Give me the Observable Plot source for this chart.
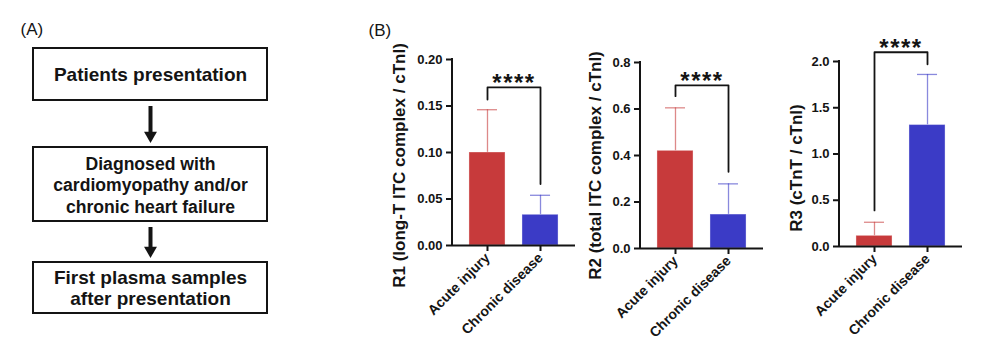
<!DOCTYPE html>
<html><head><meta charset="utf-8">
<script src="https://cdn.jsdelivr.net/npm/d3@7"></script>
<script src="https://cdn.jsdelivr.net/npm/@observablehq/plot@0.6"></script>
<style>
body{margin:0;background:#fff;}
#fig{position:relative;width:992px;height:357px;overflow:hidden;background:#fff;}
#fig svg{position:absolute;top:0;}
</style></head><body><div id="fig"></div>
<script>
// ---------- data ----------
const groups = ["Acute injury", "Chronic disease"];
const r1Mean = [0.100, 0.033];
const r1SD = [0.046, 0.021];
const r2Mean = [0.420, 0.146];
const r2SD = [0.185, 0.132];
const r3Mean = [0.115, 1.313];
const r3SD = [0.147, 0.547];
const r1Ticks = [0, 0.05, 0.10, 0.15, 0.20];
const r2Ticks = [0, 0.2, 0.4, 0.6, 0.8];
const r3Ticks = [0, 0.5, 1.0, 1.5, 2.0];
const yLabels = ["R1 (long-T ITC complex / cTnI)", "R2 (total ITC complex / cTnI)", "R3 (cTnT / cTnI)"];
const sigLabel = "****";
// significance bracket: [left leg end, bracket level, right leg end]
const r1Bracket = [0.157, 0.170, 0.066];
const r2Bracket = [0.655, 0.702, 0.330];
const r3Bracket = [0.390, 2.100, 1.970];
const flowSteps = ["Patients presentation", "Diagnosed with\ncardiomyopathy and/or\nchronic heart failure", "First plasma samples\nafter presentation"];
const panelLabels = ["(A)", "(B)"];

// ---------- styling ----------
const FONT = "'Liberation Sans', Arial, Helvetica, sans-serif";
const INK = "#141414";
const fig = document.getElementById("fig");

// ---------- (A) flowchart ----------
const FLOW = {x1: 33, x2: 267, cx: 150, boxes: [[48, 100], [147, 221], [262, 313]]};
const flowData = flowSteps.map((t, i) => ({
  text: t, y1: FLOW.boxes[i][0], y2: FLOW.boxes[i][1],
  cy: (FLOW.boxes[i][0] + FLOW.boxes[i][1]) / 2, lines: t.split("\n").length
}));
const arrows = flowData.slice(1).map((d, i) => ({start: flowData[i].y2 + 6, apex: d.y1 - 4.5}));

const flow = Plot.plot({
  width: 340, height: 357, margin: 0,
  x: {type: "identity", axis: null},
  y: {type: "identity", axis: null},
  style: {fontFamily: FONT, background: "transparent", overflow: "visible"},
  marks: [
    Plot.text([panelLabels[0]], {x: () => 20, y: () => 29, text: d => d, textAnchor: "start", fontSize: 17, fill: INK}),
    Plot.rect(flowData, {x1: () => FLOW.x1, x2: () => FLOW.x2, y1: "y1", y2: "y2", fill: "white", stroke: INK, strokeWidth: 2}),
    Plot.text(flowData.filter(d => d.lines < 3), {x: () => FLOW.cx, y: "cy", text: "text", fontSize: 19, fontWeight: "bold", lineHeight: 1.12, fill: INK}),
    Plot.text(flowData.filter(d => d.lines >= 3), {x: () => FLOW.cx, y: "cy", text: "text", fontSize: 17.6, fontWeight: "bold", lineHeight: 1.22, fill: INK}),
    Plot.ruleX(arrows, {x: () => FLOW.cx, y1: "start", y2: d => d.apex - 9, stroke: INK, strokeWidth: 4}),
    Plot.dot(arrows, {x: () => FLOW.cx, y: d => d.apex - 7.5, symbol: "triangle", rotate: 180, r: 4.8, fill: INK, stroke: "none"})
  ]
});
flow.style.left = "0px";
fig.appendChild(flow);

// ---------- (B) bar panels ----------
function barPanel(o) {
  const rows = groups.map((g, i) => ({group: g, mean: o.means[i], hi: o.means[i] + o.sds[i]}));
  const br = [
    {group: groups[0], y: o.bracket[0]}, {group: groups[0], y: o.bracket[1]},
    {group: groups[1], y: o.bracket[1]}, {group: groups[1], y: o.bracket[2]}
  ];
  const yMax = o.ticks[o.ticks.length - 1];
  const frameW = 123;
  const yAxisLine = (index, scales, values, dims) => {
    return d3.create("svg:line")
      .attr("x1", dims.marginLeft).attr("x2", dims.marginLeft)
      .attr("y1", scales.y(yMax) - 1).attr("y2", scales.y(0) + 1)
      .attr("stroke", INK).attr("stroke-width", 2).node();
  };
  const marks = [
    Plot.ruleX(rows, {x: "group", y1: "mean", y2: "hi", stroke: "group", strokeOpacity: 0.6, strokeWidth: 1.3}),
    Plot.tickY(rows, {x: "group", y: "hi", stroke: "group", strokeOpacity: 0.6, strokeWidth: 1.3, insetLeft: 8, insetRight: 8}),
    Plot.barY(rows, {x: "group", y: "mean", fill: "group", stroke: "white", strokeOpacity: 0.35, strokeWidth: 1}),
    Plot.ruleY([0], {stroke: INK, strokeWidth: 2}),
    yAxisLine,
    Plot.axisY({ticks: o.ticks, tickFormat: d3.format(o.fmt), tickSize: 6, tickPadding: 4, stroke: INK, strokeWidth: 2,
      fontSize: 13, fontWeight: "bold", fill: INK, label: null}),
    Plot.axisX({tickSize: 6, tickPadding: 4, tickRotate: -45, stroke: INK, strokeWidth: 2,
      fontSize: 14, fontWeight: "bold", fill: INK, label: null}),
    Plot.line(br, {x: "group", y: "y", stroke: INK, strokeWidth: 1.8}),
    Plot.text([sigLabel], {y: () => o.bracket[1], text: d => d, dy: -4, fontSize: 24, fontWeight: "bold", fill: INK}),
    Plot.text([o.label], {frameAnchor: "left", textAnchor: "middle", rotate: -90, text: d => d, dx: o.labelDx, dy: o.labelDy,
      fontSize: 17, fontWeight: "bold", fill: INK})
  ];
  if (o.panel) marks.push(Plot.text([o.panel], {frameAnchor: "top-left", text: d => d, textAnchor: "start",
    dx: o.panelDx, dy: o.panelDy, fontSize: 17, fill: INK}));
  const p = Plot.plot({
    width: o.marginLeft + frameW + o.marginRight, height: 357,
    marginLeft: o.marginLeft, marginRight: o.marginRight, marginTop: o.top, marginBottom: 357 - o.bottom,
    x: {type: "band", domain: groups, padding: 0.32, round: false},
    y: {domain: [0, yMax]},
    color: {domain: groups, range: ["#c73a3b", "#3b3bc6"]},
    style: {fontFamily: FONT, background: "transparent", overflow: "visible"},
    marks
  });
  d3.select(p).selectAll("text").filter(function() { return this.textContent === sigLabel; })
    .attr("letter-spacing", "1.5px");
  p.style.left = o.left + "px";
  fig.appendChild(p);
}

barPanel({means: r1Mean, sds: r1SD, ticks: r1Ticks, fmt: ".2f", label: yLabels[0], bracket: r1Bracket,
  left: 360, marginLeft: 92, marginRight: 0, top: 59, bottom: 245, labelDx: -53.4, labelDy: 13,
  panel: panelLabels[1], panelDx: -84, panelDy: -36});
barPanel({means: r2Mean, sds: r2SD, ticks: r2Ticks, fmt: ".1f", label: yLabels[1], bracket: r2Bracket,
  left: 575, marginLeft: 65, marginRight: 0, top: 62, bottom: 248, labelDx: -45.4, labelDy: 10});
barPanel({means: r3Mean, sds: r3SD, ticks: r3Ticks, fmt: ".1f", label: yLabels[2], bracket: r3Bracket,
  left: 763, marginLeft: 76, marginRight: 29, top: 61, bottom: 246, labelDx: -42.7, labelDy: 14});
</script>
</body></html>
